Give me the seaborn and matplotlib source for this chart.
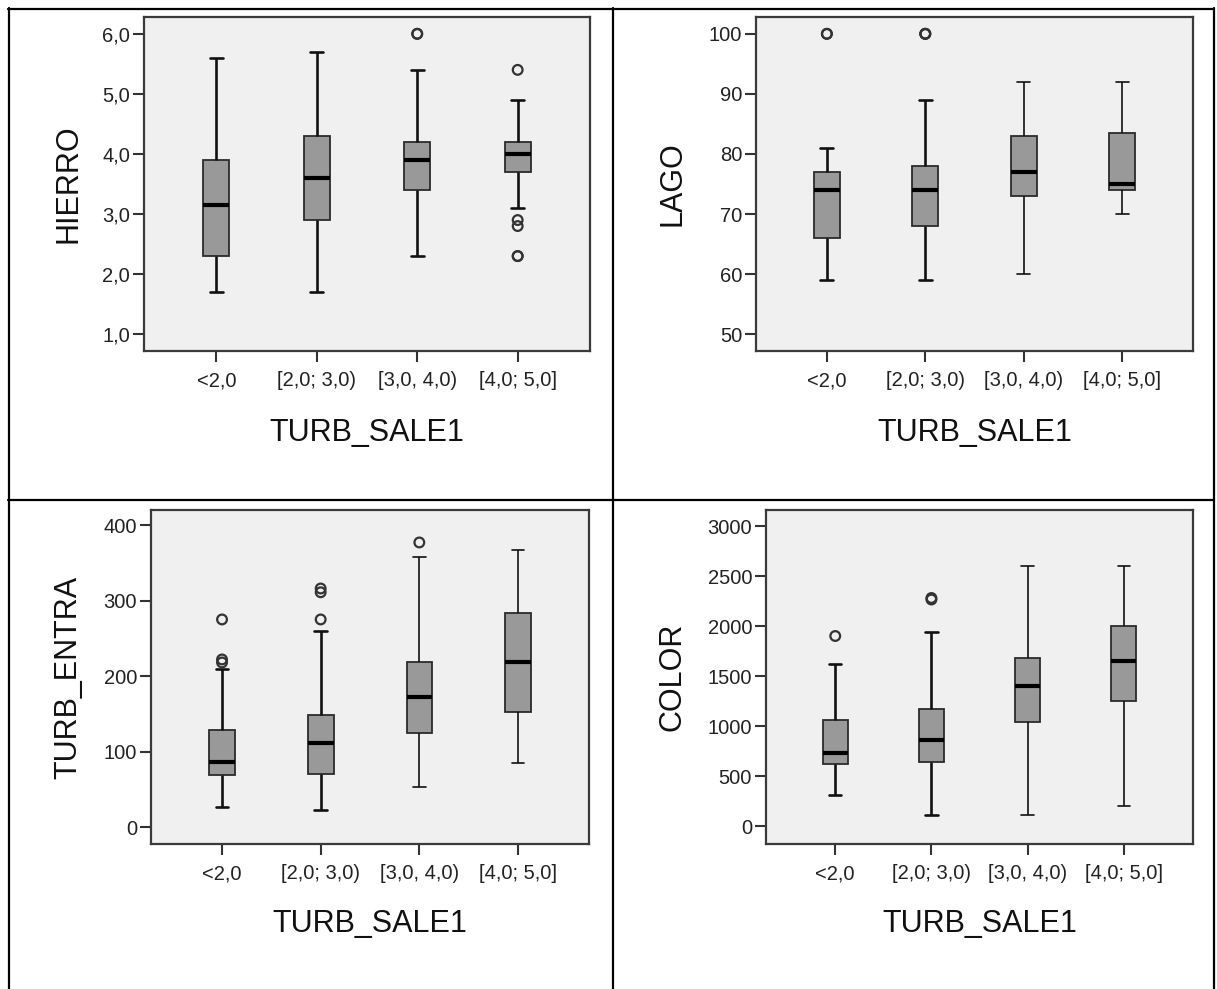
"""
Boxplots of four water quality variables against TURB_SALE1 classes,
laid out in a 2x2 table like the original SPSS output.
"""
#importing libraries
import pandas as pd
import numpy as np
import matplotlib.pyplot as plt
from matplotlib.lines import Line2D
import seaborn as sns


#categories on the x axis, shared by the four panels
categories = ["<2,0", "[2,0; 3,0)", "[3,0, 4,0)", "[4,0; 5,0]"]
x_label = "TURB_SALE1"

#HIERRO: lower whisker, Q1, median, Q3, upper whisker per group, plus outliers
hierro_low = [1.7, 1.7, 2.3, 3.1]
hierro_q1 = [2.3, 2.9, 3.4, 3.7]
hierro_med = [3.15, 3.6, 3.9, 4.0]
hierro_q3 = [3.9, 4.3, 4.2, 4.2]
hierro_high = [5.6, 5.7, 5.4, 4.9]
hierro_out = [[], [], [6.0, 6.0], [5.4, 2.9, 2.8, 2.3, 2.3]]
hierro_ticks = [1, 2, 3, 4, 5, 6]
hierro_ticklabels = ["1,0", "2,0", "3,0", "4,0", "5,0", "6,0"]

#LAGO
lago_low = [59, 59, 60, 70]
lago_q1 = [66, 68, 73, 74]
lago_med = [74, 74, 77, 75]
lago_q3 = [77, 78, 83, 83.5]
lago_high = [81, 89, 92, 92]
lago_out = [[100, 100], [100, 100, 100], [], []]
lago_ticks = [50, 60, 70, 80, 90, 100]
lago_ticklabels = ["50", "60", "70", "80", "90", "100"]

#TURB_ENTRA
turb_low = [26, 22, 53, 85]
turb_q1 = [69, 70, 125, 153]
turb_med = [86, 111, 172, 219]
turb_q3 = [128, 148, 219, 283]
turb_high = [210, 260, 358, 367]
turb_out = [[275, 222, 218], [316, 311, 275], [377], []]
turb_ticks = [0, 100, 200, 300, 400]
turb_ticklabels = ["0", "100", "200", "300", "400"]

#COLOR
color_low = [310, 110, 110, 200]
color_q1 = [620, 640, 1040, 1255]
color_med = [730, 860, 1400, 1650]
color_q3 = [1060, 1175, 1685, 2005]
color_high = [1620, 1940, 2600, 2600]
color_out = [[1900], [2280, 2265], [], []]
color_ticks = [0, 500, 1000, 1500, 2000, 2500, 3000]
color_ticklabels = ["0", "500", "1000", "1500", "2000", "2500", "3000"]


W, H = 1217, 989  #figure size in pixels (dpi 100)
WHISK_LW = 1.9


def px_rect(left, top, right, bottom):
    """pixel box (from the top-left corner) -> figure fraction rect"""
    return [left / W, 1 - bottom / H, (right - left) / W, (bottom - top) / H]


def build_frames(low, q1, med, q3, high, outliers):
    """five values per group give seaborn exactly these quartiles,
    the outliers are kept in a separate frame"""
    box_rows = []
    out_rows = []
    for i, cat in enumerate(categories):
        for v in (low[i], q1[i], med[i], q3[i], high[i]):
            box_rows.append((cat, v))
        for v in outliers[i]:
            out_rows.append((cat, v))
    box_df = pd.DataFrame(box_rows, columns=["group", "value"])
    out_df = pd.DataFrame(out_rows, columns=["group", "value"])
    return box_df, out_df


def draw_panel(fig, rect, stats, ylabel, ylim, ticks, ticklabels,
               ylab_x, xlab_y, thin_groups):
    ax = fig.add_axes(rect)
    ax.set_facecolor("#f0f0f0")
    box_df, out_df = build_frames(*stats)

    sns.boxplot(data=box_df, x="group", y="value", order=categories, ax=ax,
                whis=(0, 100), width=0.26, color="#999999", saturation=1,
                linecolor="#2b2b2b", linewidth=1.3,
                medianprops=dict(color="black", linewidth=3.0),
                whiskerprops=dict(color="#111111", linewidth=WHISK_LW),
                capprops=dict(color="#111111", linewidth=WHISK_LW))

    #SPSS drew the whiskers of some groups thinner
    for line in ax.lines:
        if line.get_linewidth() == WHISK_LW:
            grp = int(round(np.mean(line.get_xdata())))
            if grp in thin_groups:
                line.set_linewidth(1.2)

    sns.stripplot(data=out_df, x="group", y="value", order=categories,
                  ax=ax, jitter=False, color="#333333", size=7,
                  linewidth=1.6, edgecolor="#333333")
    for coll in ax.collections:
        coll.set_facecolor("none")
        coll.set_edgecolor("#333333")

    ax.set_xlim(-0.72, 3.72)
    ax.set_ylim(*ylim)
    ax.set_yticks(ticks, ticklabels)
    ax.set_xticks(range(len(categories)), categories)

    ax.tick_params(axis="both", direction="out", length=8, width=1.5,
                   color="#333333", labelsize=14.5, labelcolor="#222222")
    ax.tick_params(axis="y", pad=2)
    ax.tick_params(axis="x", pad=6.5)

    for s in ax.spines.values():
        s.set_visible(True)
        s.set_color("#3a3a3a")
        s.set_linewidth(1.6)

    ax.set_xlabel(x_label, fontsize=22, color="#111111")
    ax.set_ylabel(ylabel, fontsize=22, color="#111111")
    ax.xaxis.set_label_coords(0.5, xlab_y)
    ax.yaxis.set_label_coords(ylab_x, 0.5)
    return ax


sns.set_style("ticks")
plt.rcParams["font.family"] = ["Liberation Sans", "DejaVu Sans"]

fig = plt.figure(figsize=(W / 100, H / 100), dpi=100)

draw_panel(fig, px_rect(144, 17, 590, 351),
           (hierro_low, hierro_q1, hierro_med, hierro_q3, hierro_high, hierro_out),
           "HIERRO", (0.72, 6.28), hierro_ticks, hierro_ticklabels,
           -0.136, -0.202, [])
draw_panel(fig, px_rect(756, 17, 1193, 351),
           (lago_low, lago_q1, lago_med, lago_q3, lago_high, lago_out),
           "LAGO", (47.2, 102.8), lago_ticks, lago_ticklabels,
           -0.157, -0.202, [2, 3])
draw_panel(fig, px_rect(151, 510, 589, 844),
           (turb_low, turb_q1, turb_med, turb_q3, turb_high, turb_out),
           "TURB_ENTRA", (-22.5, 420), turb_ticks, turb_ticklabels,
           -0.154, -0.195, [2, 3])
draw_panel(fig, px_rect(766, 510, 1193, 844),
           (color_low, color_q1, color_med, color_q3, color_high, color_out),
           "COLOR", (-180, 3160), color_ticks, color_ticklabels,
           -0.184, -0.195, [2, 3])

#table borders around the four cells
def border(x0, y0, x1, y1):
    fig.add_artist(Line2D([x0 / W, x1 / W], [1 - y0 / H, 1 - y1 / H],
                          transform=fig.transFigure, color="black", lw=1.6))

border(8, 8.5, 1214, 8.5)
border(8.5, 8, 8.5, 989)
border(612.5, 8, 612.5, 989)
border(8, 500, 1214, 500)
border(1214, 8, 1214, 989)

fig.savefig("out.png", dpi=100, facecolor="white")
